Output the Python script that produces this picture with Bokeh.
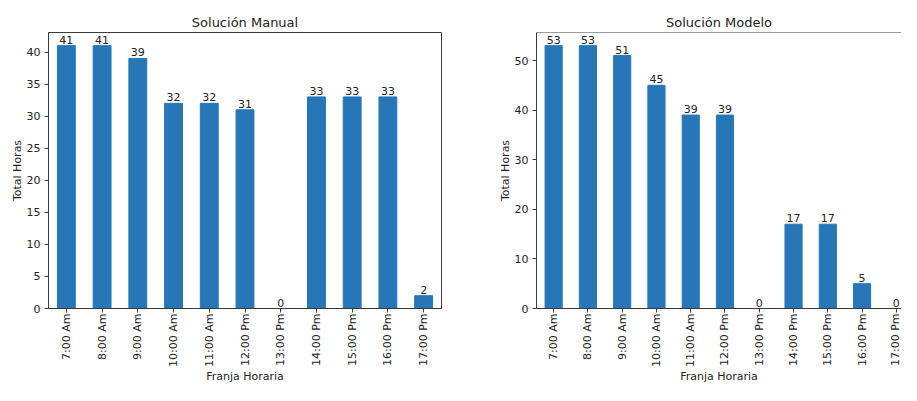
import math
from bokeh.plotting import figure
from bokeh.layouts import row
from bokeh.models import Range1d, FixedTicker, SingleIntervalTicker, Span, ColumnDataSource
from bokeh.embed import file_html
from bokeh.resources import INLINE

# ---- data ----
franjas = ["7:00 Am", "8:00 Am", "9:00 Am", "10:00 Am", "11:00 Am", "12:00 Pm",
           "13:00 Pm", "14:00 Pm", "15:00 Pm", "16:00 Pm", "17:00 Pm"]
horas_manual = [41, 41, 39, 32, 32, 31, 0, 33, 33, 33, 2]
horas_modelo = [53, 53, 51, 45, 39, 39, 0, 17, 17, 5, 0]
titulo_manual = "Solución Manual"
titulo_modelo = "Solución Modelo"
xlabel = "Franja Horaria"
ylabel = "Total Horas"

FONT = "DejaVu Sans"
BAR = "#2676b8"
AX = "#3a3a3a"
TXT = "#222222"


def make_fig(title, vals, width, min_left, min_right, x_end, y_step, outline):
    idx = list(range(len(franjas)))
    src = ColumnDataSource(dict(x=idx, top=vals, lab=[str(v) for v in vals]))
    ymax = max(vals) * 1.05
    p = figure(width=width, height=385, output_backend="svg", toolbar_location=None,
               x_range=Range1d(-0.5, x_end), y_range=Range1d(0, ymax),
               min_border_left=min_left, min_border_right=min_right,
               min_border_top=32, min_border_bottom=60)
    p.vbar(x="x", top="top", width=0.5, source=src, fill_color=BAR, line_color=BAR)
    p.text(x="x", y="top", text="lab", source=src, text_align="center",
           text_baseline="bottom", text_font_size="11px", text_color=TXT,
           text_font={"value": FONT}, y_offset=-2)
    p.grid.visible = False
    p.title.text = title
    p.title.align = "center"
    p.title.text_font = FONT
    p.title.text_font_size = "13px"
    p.title.text_font_style = "normal"
    p.title.text_color = TXT
    p.title.standoff = 6
    if outline:
        p.outline_line_color = AX
        p.outline_line_width = 1
        p.outline_line_alpha = 1
    else:
        p.outline_line_color = None
        p.add_layout(Span(location=ymax, dimension="width", line_color=AX, line_width=1))

    xa = p.xaxis[0]
    xa.ticker = FixedTicker(ticks=idx)
    xa.major_label_overrides = {i: f for i, f in zip(idx, franjas)}
    xa.major_label_orientation = math.pi / 2
    xa.axis_label = xlabel
    xa.axis_label_standoff = 0
    xa.major_label_standoff = 1
    ya = p.yaxis[0]
    ya.ticker = SingleIntervalTicker(interval=y_step)
    ya.axis_label = ylabel
    ya.axis_label_standoff = 0
    ya.major_label_standoff = 4
    for a in (xa, ya):
        a.minor_tick_line_color = None
        a.major_tick_in = 0
        a.major_tick_out = 4
        a.major_tick_line_color = AX
        a.axis_line_color = AX
        a.major_label_text_font = FONT
        a.major_label_text_font_size = "11px"
        a.major_label_text_color = TXT
        a.axis_label_text_font = FONT
        a.axis_label_text_font_size = "11px"
        a.axis_label_text_font_style = "normal"
        a.axis_label_text_color = TXT
    return p


p1 = make_fig(titulo_manual, horas_manual, 488, 48, 47, 10.5, 5, True)
p2 = make_fig(titulo_modelo, horas_modelo, 413, 48, 0, 10.15, 10, False)

layout = row(p1, p2)
open("out.html", "w").write(file_html(layout, INLINE))
